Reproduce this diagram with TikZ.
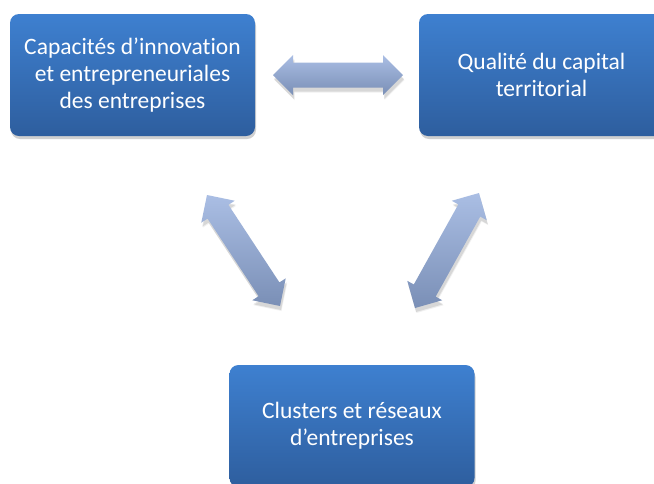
\documentclass[tikz,border=0pt]{standalone}
\usepackage{fontspec}
\setmainfont{Carlito}[Ligatures=NoCommon]
\usetikzlibrary{calc,shadows}
\definecolor{boxtop}{RGB}{62,128,208}
\definecolor{boxbot}{RGB}{46,94,158}
\definecolor{arrtop}{RGB}{170,190,228}
\definecolor{arrbot}{RGB}{122,143,182}
\tikzset{
  box/.style={rounded corners=9pt, minimum width=245pt, minimum height=122pt,
    top color=boxtop, bottom color=boxbot, text=white, align=center,
    font=\fontsize{23.5}{27}\selectfont, inner sep=0pt,
    drop shadow={shadow xshift=1pt, shadow yshift=-3pt, opacity=0.3, fill=black!60}},
  arrowshade/.style={top color=arrtop, bottom color=arrbot},
  arrowshadow/.style={fill=black, opacity=0.10}
}
\newcommand\arrowpath[2]{%
  (#1) -- ($(#1)!20pt!(#2)!20pt!90:(#2)$) -- ($(#1)!20pt!(#2)!12.5pt!90:(#2)$)
  -- ($(#2)!20pt!(#1)!12.5pt!-90:(#1)$) -- ($(#2)!20pt!(#1)!20pt!-90:(#1)$)
  -- (#2) -- ($(#2)!20pt!(#1)!20pt!90:(#1)$) -- ($(#2)!20pt!(#1)!12.5pt!90:(#1)$)
  -- ($(#1)!20pt!(#2)!12.5pt!-90:(#2)$) -- ($(#1)!20pt!(#2)!20pt!-90:(#2)$) -- cycle}
\newcommand\blockarrow[2]{%
  \begin{scope}[transform canvas={shift={(1pt,-4pt)}}]
    \path[arrowshadow] \arrowpath{#1}{#2};
  \end{scope}
  \begin{scope}[transform canvas={shift={(1.5pt,-5pt)}}]
    \path[arrowshadow, opacity=0.06] \arrowpath{#1}{#2};
  \end{scope}
  \shade[arrowshade] \arrowpath{#1}{#2};}
\begin{document}
\begin{tikzpicture}[x=1pt,y=-1pt]
  \useasboundingbox (0,0) rectangle (654,483);
  \clip (0,0) rectangle (654,483);
  \fill[white] (0,0) rectangle (654,483);
  \node[box] (cap) at (132.5,75) {Capacités d’innovation\\et entrepreneuriales\\des entreprises};
  \node[box] (qual) at (541.5,75) {Qualité du capital\\territorial};
  \node[box] (clu) at (352,426) {Clusters et réseaux\\d’entreprises};
  \coordinate (h1) at (273,75);
  \coordinate (h2) at (403,75);
  \coordinate (l1) at (207,195);
  \coordinate (l2) at (280,306);
  \coordinate (r1) at (479,193);
  \coordinate (r2) at (415,308);
  \blockarrow{h1}{h2}
  \blockarrow{l1}{l2}
  \blockarrow{r1}{r2}
\end{tikzpicture}
\end{document}
